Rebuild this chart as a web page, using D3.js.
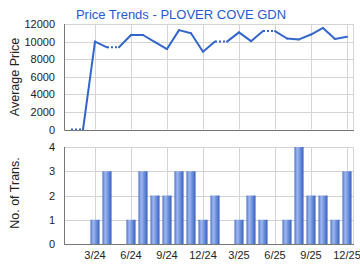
<!DOCTYPE html>
<html>
<head>
<meta charset="utf-8">
<script src="https://cdn.jsdelivr.net/npm/d3@7"></script>
<style>
  body { margin: 0; background: #fff; }
  svg { display: block; font-family: "Liberation Sans", Arial, sans-serif; }
</style>
</head>
<body>
<svg width="360" height="270"></svg>
<script>
// months shown on the x axis
var months = ["1/24","2/24","3/24","4/24","5/24","6/24","7/24","8/24","9/24","10/24","11/24","12/24",
              "1/25","2/25","3/25","4/25","5/25","6/25","7/25","8/25","9/25","10/25","11/25","12/25"];
var tickMonths = ["3/24","6/24","9/24","12/24","3/25","6/25","9/25","12/25"];
// average price per month (months without deals carry the last value)
var avgPrice = [0, 0, 10000, 9350, 9350, 10750, 10750, 9950, 9150, 11300, 10950, 8850,
                10000, 10000, 11050, 10050, 11200, 11200, 10350, 10250, 10800, 11550, 10300, 10550];
// number of transactions per month
var trans = [0, 0, 1, 3, 0, 1, 3, 2, 2, 3, 3, 1,
             2, 0, 1, 2, 1, 0, 1, 4, 2, 2, 1, 3];
var priceTicks = [0, 2000, 4000, 6000, 8000, 10000, 12000];
var transTicks = [0, 1, 2, 3, 4];

var svg = d3.select("svg");
var left = 65, right = 353;

var x = d3.scaleBand().domain(months).range([left, right]);
var cx = function(m) { return x(m) + x.bandwidth() / 2; };

var yPrice = d3.scaleLinear().domain([0, 12000]).range([129.5, 24]);
var yTrans = d3.scaleLinear().domain([0, 4]).range([244, 147]);

// bar gradient
var grad = svg.append("defs").append("linearGradient")
              .attr("id", "barGrad").attr("x1", "0%").attr("x2", "100%");
[["0%", "#3a62c2"], ["15%", "#7e9ee2"], ["35%", "#9db5ec"], ["65%", "#6a8edb"], ["88%", "#4a72cc"], ["100%", "#2a51b0"]]
  .forEach(function(s) { grad.append("stop").attr("offset", s[0]).attr("stop-color", s[1]); });

function panel(y, ticks, fmt) {
    var g = svg.append("g");
    // horizontal grid
    g.selectAll(".hg").data(ticks).enter().append("line")
     .attr("x1", left).attr("x2", right)
     .attr("y1", function(d) { return Math.round(y(d)) + 0.5; })
     .attr("y2", function(d) { return Math.round(y(d)) + 0.5; })
     .attr("stroke", "#d4d4d4");
    // vertical grid
    g.selectAll(".vg").data(tickMonths).enter().append("line")
     .attr("x1", function(d) { return Math.round(cx(d)) + 0.5; })
     .attr("x2", function(d) { return Math.round(cx(d)) + 0.5; })
     .attr("y1", y.range()[1]).attr("y2", y.range()[0])
     .attr("stroke", "#d4d4d4");
    g.append("line").attr("x1", right + 0.5).attr("x2", right + 0.5)
     .attr("y1", y.range()[1]).attr("y2", y.range()[0]).attr("stroke", "#d4d4d4");
    // y axis labels
    var ax = g.append("g").attr("transform", "translate(" + left + ",0)")
              .call(d3.axisLeft(y).tickValues(ticks).tickFormat(fmt).tickSize(0).tickPadding(10));
    ax.select(".domain").remove();
    ax.selectAll("text").attr("font-size", "11px").attr("fill", "#222")
      .attr("font-family", "Liberation Sans, Arial, sans-serif");
    return g;
}

var priceG = panel(yPrice, priceTicks, d3.format("d"));
var transG = panel(yTrans, transTicks, d3.format("d"));

// price line: segment into a month without deals is dotted
var pts = months.map(function(m, i) { return [cx(m), yPrice(avgPrice[i])]; });
for (var i = 1; i < pts.length; i++) {
    priceG.append("line")
       .attr("x1", pts[i - 1][0]).attr("y1", pts[i - 1][1])
       .attr("x2", pts[i][0]).attr("y2", pts[i][1])
       .attr("stroke", "#3366cc").attr("stroke-width", 2)
       .attr("stroke-dasharray", trans[i] === 0 ? "2,2" : null)
       .attr("stroke-linecap", trans[i] === 0 ? "butt" : "round");
}

// bars
transG.selectAll("rect.bar").data(months).enter().append("rect")
   .attr("class", "bar")
   .attr("x", function(d) { return cx(d) - 4.5; })
   .attr("width", 9)
   .attr("y", function(d, i) { return yTrans(trans[i]); })
   .attr("height", function(d, i) { return yTrans(0) - yTrans(trans[i]); })
   .attr("fill", "url(#barGrad)");

// axis lines
[yPrice, yTrans].forEach(function(y) {
    svg.append("line").attr("x1", left - 0.5).attr("x2", left - 0.5)
       .attr("y1", y.range()[1]).attr("y2", y.range()[0] + 1).attr("stroke", "#777");
    svg.append("line").attr("x1", left - 0.5).attr("x2", right + 1)
       .attr("y1", Math.round(y.range()[0]) + 0.5).attr("y2", Math.round(y.range()[0]) + 0.5)
       .attr("stroke", "#777");
});

// x axis labels
var xa = svg.append("g").attr("transform", "translate(0,248)")
            .call(d3.axisBottom(x).tickValues(tickMonths).tickSize(0).tickPadding(3));
xa.select(".domain").remove();
xa.selectAll("text").attr("font-size", "11px").attr("fill", "#222")
  .attr("font-family", "Liberation Sans, Arial, sans-serif");

// titles
svg.append("text").attr("x", 181).attr("y", 19).attr("text-anchor", "middle")
   .attr("font-size", "13px").attr("fill", "#1f5bd1")
   .text("Price Trends - PLOVER COVE GDN");
svg.append("text").attr("transform", "translate(19,77) rotate(-90)")
   .attr("text-anchor", "middle").attr("font-size", "12.5px").attr("fill", "#222")
   .text("Average Price");
svg.append("text").attr("transform", "translate(19,193) rotate(-90)")
   .attr("text-anchor", "middle").attr("font-size", "12.5px").attr("fill", "#222")
   .text("No. of Trans.");
</script>
</body>
</html>
